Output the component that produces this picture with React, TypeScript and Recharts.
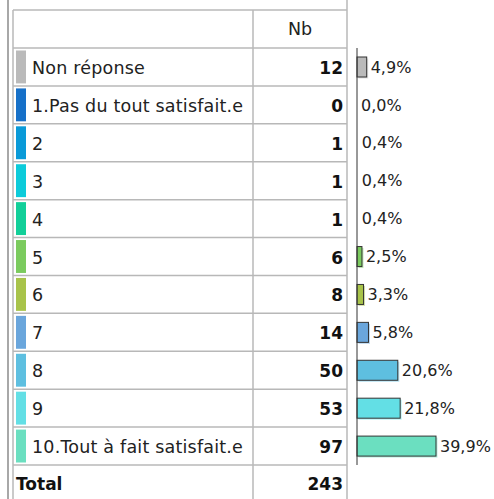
import React from 'react';
import { BarChart, Bar, XAxis, YAxis, Cell, LabelList } from 'recharts';

const categories = [
  'Non réponse',
  '1.Pas du tout satisfait.e',
  '2',
  '3',
  '4',
  '5',
  '6',
  '7',
  '8',
  '9',
  '10.Tout à fait satisfait.e',
];
const counts = [12, 0, 1, 1, 1, 6, 8, 14, 50, 53, 97];
const percents = [4.9, 0.0, 0.4, 0.4, 0.4, 2.5, 3.3, 5.8, 20.6, 21.8, 39.9];
const colors = [
  '#bababa',
  '#1670c8',
  '#0a9ad8',
  '#0ccbda',
  '#12cf99',
  '#7bcb5e',
  '#a8c34a',
  '#6aa6dc',
  '#5ebfe0',
  '#63dfe5',
  '#6bdfc0',
];
const totalLabel = 'Total';
const totalCount = 243;
const headerLabel = 'Nb';

const data = categories.map((name, i) => ({ name, count: counts[i], pct: percents[i] }));

const W = 494;
const H = 499;
const TOP = 48;
const BOTTOM = 465;
const ROW = (BOTTOM - TOP) / categories.length;
const TL = 13; // table left
const TM = 253; // column divider
const TR = 347; // table right
const FONT = "'DejaVu Sans', sans-serif";
const GRID = '#b8b8b8';
const FS = 17.5;

const RowTick = (props: any) => {
  const { y, payload } = props;
  const i = categories.indexOf(payload.value);
  const top = y - ROW / 2;
  const bottom = y + ROW / 2;
  const last = i === categories.length - 1;
  return (
    <g>
      {i === 0 && (
        <g>
          <line x1={TL} x2={TR} y1={10} y2={10} stroke={GRID} strokeWidth={1.5} />
          <text x={(TM + TR) / 2} y={29} textAnchor="middle" dominantBaseline="central" fontFamily={FONT} fontSize={FS} fill="#222">
            {headerLabel}
          </text>
          <line x1={TL} x2={TR} y1={TOP} y2={TOP} stroke={GRID} strokeWidth={1.5} />
        </g>
      )}
      <line x1={TL} x2={TR} y1={bottom} y2={bottom} stroke={GRID} strokeWidth={1.5} />
      <rect x={16} y={top + 2.5} width={10} height={ROW - 5} fill={colors[i]} />
      <text x={32} y={y + 1} dominantBaseline="central" fontFamily={FONT} fontSize={FS} letterSpacing={0.2} fill="#222">
        {payload.value}
      </text>
      <text x={343} y={y + 1} textAnchor="end" dominantBaseline="central" fontFamily={FONT} fontSize={17} fontWeight="bold" fill="#111">
        {counts[i]}
      </text>
      {last && (
        <g>
          <text x={16} y={bottom + ROW / 2} dominantBaseline="central" fontFamily={FONT} fontSize={17} fontWeight="bold" fill="#111">
            {totalLabel}
          </text>
          <text x={343} y={bottom + ROW / 2} textAnchor="end" dominantBaseline="central" fontFamily={FONT} fontSize={17} fontWeight="bold" fill="#111">
            {totalCount}
          </text>
        </g>
      )}
    </g>
  );
};

const BarShape = (props: any) => {
  const { x, y, width, height, fill } = props;
  if (!width || width < 2) return <g />;
  return (
    <g>
      <rect x={x + 1.5} y={y + 1.5} width={width} height={height} fill={fill} opacity={0.45} />
      <rect x={x} y={y} width={width} height={height} fill={fill} stroke="#333" strokeWidth={1} />
    </g>
  );
};

const fmt = (v: any) => `${Number(v).toFixed(1).replace('.', ',')}%`;

export default function App() {
  return (
    <div style={{ position: 'absolute', left: 0, top: 0, width: W, height: H, background: '#fff' }}>
      <svg width={W} height={H} style={{ position: 'absolute', left: 0, top: 0 }}>
        <line x1={8} x2={8} y1={0} y2={H} stroke="#a8a8a8" strokeWidth={2} />
        <line x1={TL} x2={TL} y1={10} y2={H} stroke={GRID} strokeWidth={1.5} />
        <line x1={TM} x2={TM} y1={10} y2={H} stroke={GRID} strokeWidth={1.5} />
        <line x1={TR} x2={TR} y1={0} y2={H} stroke={GRID} strokeWidth={1.5} />
      </svg>
      <div style={{ position: 'absolute', left: 0, top: 0 }}>
        <BarChart
          width={W}
          height={H}
          data={data}
          layout="vertical"
          margin={{ top: TOP, bottom: H - BOTTOM, left: 0, right: 38 }}
          barCategoryGap={0}
        >
          <XAxis type="number" domain={[0, 50]} hide />
          <YAxis
            type="category"
            dataKey="name"
            width={357}
            interval={0}
            tickLine={false}
            axisLine={{ stroke: '#333', strokeWidth: 1 }}
            tick={<RowTick />}
          />
          <Bar dataKey="pct" barSize={20} isAnimationActive={false} shape={<BarShape />}>
            {data.map((d, i) => (
              <Cell key={d.name} fill={colors[i]} />
            ))}
            <LabelList
              dataKey="pct"
              position="right"
              offset={4}
              formatter={fmt}
              style={{ fontFamily: FONT, fontSize: 16, fill: '#222' }}
            />
          </Bar>
        </BarChart>
      </div>
    </div>
  );
}
